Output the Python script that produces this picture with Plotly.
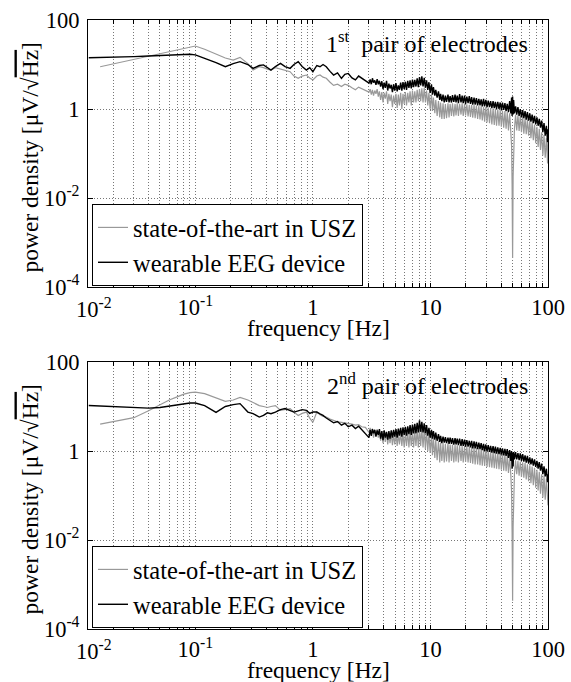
import plotly.graph_objects as go

# ---------------- data ----------------
freq_lo = [0.0124, 0.0155, 0.02, 0.03, 0.04, 0.05, 0.06, 0.07, 0.08, 0.09,
           0.1, 0.12, 0.15, 0.18, 0.21, 0.24, 0.28, 0.31, 0.35, 0.38,
           0.41, 0.44, 0.48, 0.53, 0.58, 0.64, 0.69, 0.75, 0.81, 0.88,
           0.94, 1.0, 1.08, 1.15, 1.22, 1.3, 1.4, 1.5, 1.62, 1.75,
           1.87, 2.0, 2.15, 2.3, 2.45, 2.6, 2.8]

freq_hi = [3.00, 3.07, 3.14, 3.21, 3.28, 3.36, 3.44, 3.52, 3.60, 3.68,
           3.77, 3.86, 3.95, 4.04, 4.13, 4.23, 4.33, 4.43, 4.53, 4.64,
           4.75, 4.86, 4.97, 5.09, 5.21, 5.33, 5.45, 5.58, 5.71, 5.84,
           5.98, 6.12, 6.26, 6.41, 6.56, 6.71, 6.87, 7.03, 7.19, 7.36,
           7.53, 7.71, 7.89, 8.07, 8.26, 8.45, 8.65, 8.85, 9.06, 9.27,
           9.49, 9.71, 9.94, 10.2, 10.4, 10.6, 10.9, 11.1, 11.4, 11.7,
           12.0, 12.2, 12.5, 12.8, 13.1, 13.4, 13.7, 14.1, 14.4, 14.7,
           15.1, 15.4, 15.8, 16.2, 16.5, 16.9, 17.3, 17.7, 18.2, 18.6,
           19.0, 19.5, 19.9, 20.4, 20.9, 21.4, 21.9, 22.4, 22.9, 23.5,
           24.0, 24.6, 25.2, 25.8, 26.4, 27.0, 27.6, 28.3, 28.9, 29.6,
           30.3, 31.0, 31.8, 32.5, 33.3, 34.1, 34.9, 35.7, 36.5, 37.4,
           38.3, 39.2, 40.1, 41.0, 42.0, 43.0, 44.0, 45.0, 46.1, 47.2,
           48.3, 49.0, 49.5, 50.0, 50.5, 51.0, 51.8, 53.0, 54.2, 55.5,
           56.8, 58.1, 59.5, 60.9, 62.3, 63.8, 65.3, 66.8, 68.4, 70.0,
           71.6, 73.3, 75.0, 76.8, 78.6, 80.5, 82.4, 84.3, 86.3, 88.3,
           90.4, 92.5, 94.7, 96.9, 99.2, 100.0]

# 1st pair of electrodes
top_usz_lo = [None, 8.9, 10.3, 13, 15.4, 17.5, 19.4, 21.2, 23, 24.5,
              26, 22, 17, 14, 12.6, 14.5, 10.5, 7.5, 8.9, 8.5,
              7.8, 7.5, 8.5, 7.9, 7.5, 6.9, 5.5, 4.9, 5.5, 5.8,
              5, 4.5, 5.5, 5.8, 5.2, 4.9, 4.0, 3.4, 3.6, 3.2,
              3.6, 3.4, 3.0, 2.7, 3.1, 2.9, 2.6]
top_usz_hi = [2.4, 2.8, 2.1, 2.7, 2.0, 2.6, 2.2, 2.8, 1.9, 2.5,
              1.6, 2.4, 1.4, 2.3, 1.7, 2.5, 1.3, 2.2, 1.5, 2.1,
              1.1, 2.0, 1.3, 2.2, 1.05, 2.1, 1.2, 2.3, 1.0, 2.2,
              1.3, 2.4, 1.2, 2.3, 1.4, 2.5, 1.2, 2.6, 1.4, 2.5,
              1.4, 2.7, 1.5, 2.8, 1.5, 2.9, 1.4, 3.0, 1.4, 2.6,
              1.2, 2.3, 1.0, 2.1, 0.9, 1.8, 0.8, 1.6, 0.7, 1.5,
              0.65, 1.4, 0.6, 1.35, 0.6, 1.3, 0.62, 1.35, 0.65, 1.3,
              0.7, 1.35, 0.68, 1.3, 0.72, 1.35, 0.7, 1.3, 0.75, 1.35,
              0.7, 1.3, 0.72, 1.28, 0.68, 1.25, 0.66, 1.25, 0.64, 1.22,
              0.62, 1.2, 0.6, 1.18, 0.58, 1.15, 0.55, 1.12, 0.52, 1.1,
              0.5, 1.08, 0.48, 1.05, 0.45, 1.02, 0.44, 1.0, 0.42, 0.98,
              0.42, 0.95, 0.4, 0.92, 0.38, 0.9, 0.36, 0.85, 0.33, 0.8,
              0.3, 0.15, 0.02, 0.00045, 0.03, 0.2, 0.35, 0.75, 0.33, 0.72,
              0.32, 0.7, 0.3, 0.68, 0.28, 0.62, 0.27, 0.58, 0.25, 0.55,
              0.22, 0.5, 0.2, 0.45, 0.17, 0.4, 0.14, 0.36, 0.12, 0.3,
              0.09, 0.26, 0.08, 0.22, 0.06, 0.18]
top_wear_lo = [14.2, 14.3, 14.5, 15, 15.5, 16, 16.5, 17, 17, 17,
               16.5, 14, 11, 8.9, 10.5, 11.6, 10, 8.2, 9.5, 9.8,
               8.5, 7.5, 9, 10.6, 9, 8.2, 10, 11.6, 9, 7.5,
               8.5, 6.9, 9.5, 8.9, 10, 8.9, 7, 5.8, 6.5, 4.9,
               6, 6.3, 5, 4.5, 5.5, 4.9, 4.3]
top_wear_hi = [3.8, 4.6, 3.6, 4.9, 3.9, 4.4, 3.5, 4.7, 3.6, 4.3,
               3.2, 4.2, 2.8, 3.9, 3.0, 4.3, 2.6, 3.7, 2.9, 3.5,
               2.4, 3.6, 2.6, 3.8, 2.5, 3.4, 2.7, 3.9, 2.6, 4.0,
               2.8, 4.1, 2.7, 4.3, 3.0, 4.4, 2.9, 4.6, 3.1, 4.5,
               3.2, 4.9, 3.1, 5.2, 3.4, 5.4, 3.2, 5.0, 3.0, 4.4,
               2.7, 4.0, 2.3, 3.6, 2.1, 3.1, 2.0, 2.7, 1.8, 2.5,
               1.6, 2.2, 1.5, 2.1, 1.4, 2.0, 1.45, 2.1, 1.4, 1.95,
               1.4, 2.05, 1.45, 2.1, 1.4, 2.0, 1.35, 2.15, 1.4, 2.0,
               1.35, 2.0, 1.3, 1.9, 1.35, 1.95, 1.3, 1.85, 1.25, 1.8,
               1.25, 1.75, 1.2, 1.7, 1.2, 1.65, 1.15, 1.7, 1.15, 1.6,
               1.1, 1.55, 1.1, 1.5, 1.05, 1.5, 1.05, 1.45, 1.0, 1.45,
               1.0, 1.4, 0.95, 1.4, 0.95, 1.35, 0.9, 1.3, 0.85, 1.5,
               0.8, 1.8, 0.7, 1.9, 0.75, 1.6, 0.8, 1.15, 0.75, 1.1,
               0.7, 1.0, 0.65, 0.95, 0.62, 0.9, 0.58, 0.85, 0.55, 0.8,
               0.52, 0.75, 0.48, 0.7, 0.45, 0.65, 0.42, 0.6, 0.38, 0.55,
               0.3, 0.48, 0.25, 0.42, 0.18, 0.35]

# 2nd pair of electrodes
bot_usz_lo = [None, 4.0, 4.5, 5.6, 8, 11, 14, 16.5, 19, 20.5,
              21, 19.5, 15.5, 13, 14, 16, 14, 12.4, 10.5, 10,
              9.5, 10, 10.5, 8.2, 8.5, 9, 7.5, 6.3, 7, 7.5,
              5.5, 4.4, 7.5, 6.5, 6.0, 5.8, 5.2, 4.9, 4.5, 4.4,
              4.3, 4.1, 4.0, 3.8, 3.9, 3.5, 3.4]
bot_usz_hi = [2.6, 3.3, 2.4, 3.2, 2.0, 2.9, 2.2, 3.1, 2.0, 2.8,
              1.7, 2.6, 1.5, 2.5, 1.6, 2.6, 1.4, 2.4, 1.5, 2.5,
              1.35, 2.4, 1.4, 2.5, 1.3, 2.4, 1.4, 2.6, 1.3, 2.5,
              1.2, 2.6, 1.3, 2.7, 1.2, 2.8, 1.3, 2.9, 1.2, 2.8,
              1.3, 3.0, 1.2, 3.2, 1.3, 3.3, 1.2, 3.1, 1.1, 2.9,
              1.0, 2.5, 0.9, 2.2, 0.8, 2.0, 0.7, 1.8, 0.62, 1.7,
              0.55, 1.55, 0.6, 1.5, 0.55, 1.45, 0.58, 1.5, 0.55, 1.4,
              0.6, 1.4, 0.55, 1.38, 0.58, 1.35, 0.55, 1.35, 0.6, 1.3,
              0.55, 1.3, 0.57, 1.28, 0.55, 1.25, 0.54, 1.22, 0.52, 1.2,
              0.5, 1.18, 0.5, 1.15, 0.48, 1.12, 0.47, 1.1, 0.46, 1.05,
              0.44, 1.0, 0.43, 0.98, 0.42, 0.96, 0.41, 0.94, 0.4, 0.92,
              0.39, 0.9, 0.38, 0.88, 0.36, 0.85, 0.35, 0.8, 0.32, 0.75,
              0.28, 0.12, 0.015, 0.00043, 0.02, 0.18, 0.3, 0.62, 0.3, 0.6,
              0.28, 0.58, 0.26, 0.56, 0.25, 0.54, 0.23, 0.5, 0.21, 0.48,
              0.19, 0.45, 0.17, 0.42, 0.15, 0.38, 0.13, 0.34, 0.11, 0.3,
              0.09, 0.28, 0.08, 0.24, 0.07, 0.06]
bot_wear_lo = [10.5, 10.3, 10, 9.6, 9.2, 9.5, 10.3, 11, 11.8, 12,
               12, 10.5, 7.4, 10, 11, 11.6, 7.5, 6.9, 5.8, 6.3,
               7.2, 6.9, 7.5, 8.5, 9, 8.2, 7.5, 8, 8.5, 8.2,
               7, 7.5, 7.5, 6.8, 6.3, 5.5, 4.9, 4.3, 4.6, 3.8,
               4.2, 3.5, 3.8, 3.2, 3.6, 3.0, 2.4]
bot_wear_hi = [2.0, 3.0, 2.2, 3.1, 2.5, 3.0, 2.1, 2.9, 2.3, 3.1,
               1.9, 2.8, 1.75, 2.9, 2.0, 2.7, 1.8, 2.8, 1.9, 2.9,
               2.0, 3.0, 2.1, 3.1, 2.0, 3.2, 2.2, 3.3, 2.1, 3.4,
               2.3, 3.5, 2.2, 3.6, 2.4, 3.8, 2.3, 3.9, 2.5, 4.1,
               2.5, 4.3, 2.6, 4.9, 2.7, 4.5, 2.6, 4.2, 2.5, 3.8,
               2.2, 3.3, 2.0, 3.0, 1.9, 2.8, 1.8, 2.6, 1.7, 2.4,
               1.6, 2.2, 1.5, 2.1, 1.55, 2.05, 1.5, 2.0, 1.45, 2.0,
               1.45, 1.95, 1.4, 1.95, 1.4, 1.9, 1.35, 1.9, 1.3, 1.85,
               1.3, 1.8, 1.25, 1.75, 1.25, 1.7, 1.2, 1.7, 1.15, 1.65,
               1.15, 1.6, 1.1, 1.55, 1.1, 1.5, 1.05, 1.45, 1.0, 1.4,
               0.98, 1.35, 0.95, 1.3, 0.92, 1.28, 0.9, 1.25, 0.87, 1.2,
               0.85, 1.18, 0.83, 1.15, 0.8, 1.12, 0.78, 1.1, 0.7, 1.05,
               0.6, 1.0, 0.4, 0.9, 0.45, 0.95, 0.65, 0.95, 0.65, 0.9,
               0.62, 0.88, 0.6, 0.85, 0.58, 0.8, 0.55, 0.78, 0.52, 0.72,
               0.5, 0.68, 0.47, 0.65, 0.44, 0.6, 0.4, 0.56, 0.36, 0.52,
               0.3, 0.45, 0.27, 0.4, 0.2, 0.3]

series_names = ["state-of-the-art in USZ", "wearable EEG device"]
panel_titles = ["1<sup>st</sup>  pair of electrodes", "2<sup>nd</sup> pair of electrodes"]
x_title = "frequency [Hz]"
y_title = "power density [μV/√<span style=\"text-decoration:overline\">Hz</span>]"
y_tickvals = [1e-4, 1e-2, 1, 100]
y_ticktext = ["10<sup>-4</sup>", "10<sup>-2</sup>", "1", "100"]
x_major_labels = {-1: "10<sup>-1</sup>", 0: "1", 1: "10", 2: "100"}

# ---------------- figure ----------------
W, H = 571, 682
FONT = "Liberation Serif"
GRAY = "#999999"
BLACK = "#000000"

freq = freq_lo + freq_hi
XMIN_LOG = -1.913

x_tickvals, x_ticktext = [], []
for d in (-2, -1, 0, 1):
    for m in range(1, 10):
        v = m * 10.0 ** d
        if v >= 10 ** XMIN_LOG:
            x_tickvals.append(v)
            x_ticktext.append(x_major_labels.get(d, "") if m == 1 else "")
x_tickvals.append(100.0)
x_ticktext.append(x_major_labels[2])

# pixel layout of the two axes boxes
L, R = 88, 548
panels_px = [(20, 287), (362, 629)]

def px_x(p):
    return p / W

def px_y(p):
    return 1 - p / H

fig = go.Figure()
data = [(top_usz_lo + top_usz_hi, top_wear_lo + top_wear_hi),
        (bot_usz_lo + bot_usz_hi, bot_wear_lo + bot_wear_hi)]

for i, (usz, wear) in enumerate(data):
    xa = "x" if i == 0 else "x2"
    ya = "y" if i == 0 else "y2"
    lg = "legend" if i == 0 else "legend2"
    fig.add_trace(go.Scatter(x=freq, y=usz, mode="lines", name=series_names[0],
                             line=dict(color=GRAY, width=1.2), xaxis=xa, yaxis=ya,
                             legend=lg, connectgaps=False, hoverinfo="skip"))
    fig.add_trace(go.Scatter(x=freq, y=wear, mode="lines", name=series_names[1],
                             line=dict(color=BLACK, width=1.4), xaxis=xa, yaxis=ya,
                             legend=lg, connectgaps=False, hoverinfo="skip"))

tickfont = dict(family=FONT, size=22.5, color="black")
GRID = dict(showgrid=True, gridcolor="#777777", griddash="1px,2px", gridwidth=1)
common_x = dict(type="log", range=[XMIN_LOG, 2], tickmode="array",
                tickvals=x_tickvals, ticktext=x_ticktext,
                ticks="inside", ticklen=4, tickcolor="black", tickwidth=1,
                showline=True, linecolor="black", linewidth=1, mirror="ticks",
                tickfont=tickfont, ticklabelstandoff=0, zeroline=False,
                automargin=False, domain=[px_x(L), px_x(R)], **GRID)
common_y = dict(type="log", range=[-4, 2], tickmode="array",
                tickvals=y_tickvals, ticktext=y_ticktext,
                ticks="inside", ticklen=5, tickcolor="black", tickwidth=1,
                showline=True, linecolor="black", linewidth=1, mirror="ticks",
                tickfont=tickfont, ticklabelstandoff=3, zeroline=False,
                automargin=False, **GRID)

(t0, b0), (t1, b1) = panels_px
fig.update_layout(
    width=W, height=H,
    margin=dict(l=0, r=0, t=0, b=0, pad=0, autoexpand=False),
    paper_bgcolor="white", plot_bgcolor="white",
    font=dict(family=FONT, color="black"),
    xaxis=dict(common_x, anchor="y"),
    yaxis=dict(common_y, anchor="x", domain=[px_y(b0), px_y(t0)]),
    xaxis2=dict(common_x, anchor="y2"),
    yaxis2=dict(common_y, anchor="x2", domain=[px_y(b1), px_y(t1)]),
    showlegend=True,
)

legend_common = dict(xanchor="left", yanchor="top", bordercolor="black", borderwidth=1,
                     bgcolor="white", font=dict(family=FONT, size=24.5, color="black"),
                     tracegroupgap=0, itemwidth=30)
fig.update_layout(
    legend=dict(legend_common, x=px_x(92), y=px_y(204)),
    legend2=dict(legend_common, x=px_x(92), y=px_y(546)),
)

annots = []
for i, (t, b) in enumerate(panels_px):
    annots.append(dict(text=panel_titles[i], xref="paper", yref="paper",
                       x=px_x(530), y=px_y(t + 22), xanchor="right", yanchor="middle",
                       showarrow=False, font=dict(family=FONT, size=24, color="black")))
    annots.append(dict(text=x_title, xref="paper", yref="paper",
                       x=px_x((L + R) / 2), y=px_y(b + 41), xanchor="center", yanchor="middle",
                       showarrow=False, font=dict(family=FONT, size=23.5, color="black")))
    annots.append(dict(text=y_title, xref="paper", yref="paper", textangle=-90,
                       x=px_x(29), y=px_y((t + b) / 2 + 4), xanchor="center", yanchor="middle",
                       showarrow=False, font=dict(family=FONT, size=23.5, color="black")))
    annots.append(dict(text="10<sup>-2</sup>", xref="paper", yref="paper",
                       x=px_x(94), y=px_y(b + 21), xanchor="center", yanchor="middle",
                       showarrow=False, font=dict(family=FONT, size=22.5, color="black")))
fig.update_layout(annotations=annots)

fig.write_html("out.html", config={"displayModeBar": False},
               post_script="document.body.style.margin='0px';")
